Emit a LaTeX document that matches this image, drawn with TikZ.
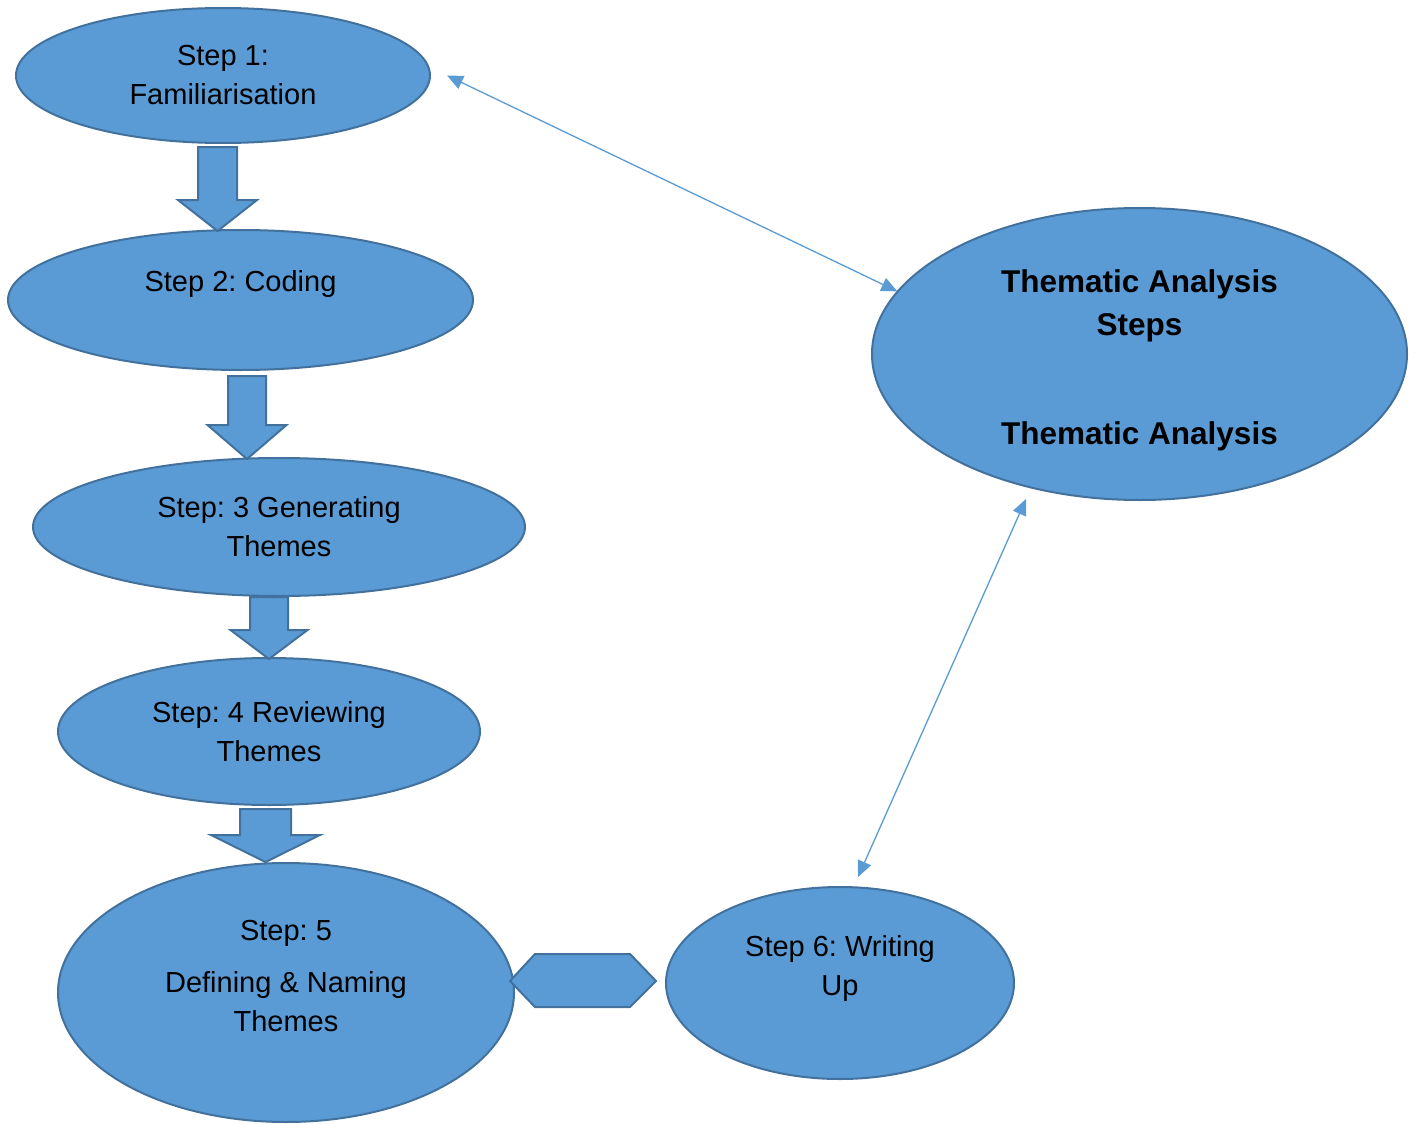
\documentclass[tikz,border=0pt]{standalone}
\usepackage{fontspec}
\setmainfont{Liberation Sans}
\usepackage{tikz}
\usetikzlibrary{shapes.geometric,arrows.meta}
\frenchspacing
\definecolor{stepfill}{HTML}{5B9BD5}
\definecolor{stepline}{HTML}{41719C}
\tikzset{
	stepnode/.style={ellipse, draw=stepline, fill=stepfill, line width=2pt, inner sep=0pt, align=center, font=\fontsize{29}{39}\selectfont},
	blockarrow/.style={draw=stepline, fill=stepfill, line width=2pt},
	linkarrow/.style={draw=stepfill, line width=1.3pt, >={Triangle[length=16pt,width=14pt]}, <->}
}
\def\blockdown(#1,#2,#3,#4,#5,#6){\draw[blockarrow] ({#1-#5},#2) -- ({#1+#5},#2) -- ({#1+#5},#3) -- ({#1+#6},#3) -- (#1,#4) -- ({#1-#6},#3) -- ({#1-#5},#3) -- cycle;}

\begin{document}
\begin{tikzpicture}[x=1pt, y=-1pt]
			%%%%% START %%%%%
			\useasboundingbox (0,0) rectangle (1417,1124);
			
			\node[stepnode, minimum width=414pt, minimum height=135pt] (s1) at (223,75.5) {Step 1:\\Familiarisation};
			\node[stepnode, minimum width=465pt, minimum height=140pt] (s2) at (240.5,300) {Step 2: Coding\\\mbox{}};
			\node[stepnode, minimum width=492pt, minimum height=138pt] (s3) at (279,527) {Step: 3 Generating\\Themes};
			\node[stepnode, minimum width=422pt, minimum height=147pt] (s4) at (269,731.5) {Step: 4 Reviewing\\Themes};
			\node[stepnode, minimum width=456pt, minimum height=259pt] (s5) at (286,992.5) {Step: 5\\[13pt]Defining \& Naming\\Themes\\[-6pt]\mbox{}};
			\node[stepnode, minimum width=348pt, minimum height=192pt] (s6) at (840,983) {Step 6: Writing\\Up\\[-3pt]\mbox{}};
			
			\node[stepnode, minimum width=535pt, minimum height=292pt, font=\fontsize{31.5}{43}\selectfont\bfseries] (tas) at (1139.5,354) {\mbox{}\\[-8pt]Thematic Analysis\\Steps\\[66pt]Thematic Analysis};
			
			% block arrows between the steps
			\blockdown(217.5,147,200,231,19.5,39.5);
			\blockdown(247,376,425,459,19,39.5);
			\blockdown(269,597,630,659,19,38.5);
			\blockdown(265.5,809,835,862,25.5,54.5);
			
			% step 5 <-> step 6
			\draw[blockarrow] (510,981) -- (535,954) -- (630,954) -- (656,981) -- (630,1007) -- (535,1007) -- cycle;
			
			\draw[linkarrow] ([xshift=16pt]s1.east) -- ([shift={(-1pt,-2pt)}]tas.165);
			\draw[linkarrow] ([xshift=-113.5pt,yshift=2pt]tas.south) -- ([xshift=18pt,yshift=9pt]s6.north);
			
			%%%%% END %%%%%
\end{tikzpicture}
\end{document}
